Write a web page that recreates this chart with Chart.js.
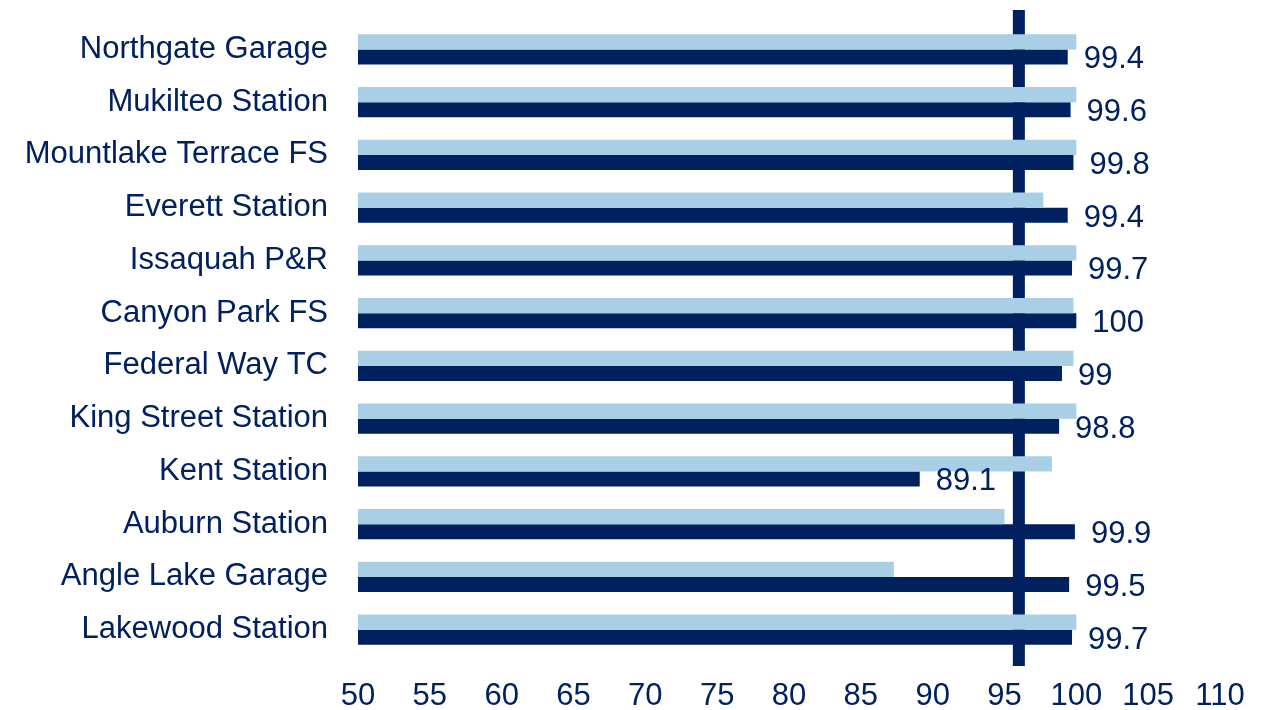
<!DOCTYPE html>
<html>
<head>
<meta charset="utf-8">
<script src="https://cdn.jsdelivr.net/npm/chart.js@4/dist/chart.umd.min.js"></script>
<style>
  html, body { margin: 0; padding: 0; background: #fff; }
  #wrap { width: 1264px; height: 710px; }
</style>
</head>
<body>
<div id="wrap"><canvas id="chart"></canvas></div>
<script>
// Station list, top to bottom
const stations = [
	'Northgate Garage', 'Mukilteo Station', 'Mountlake Terrace FS', 'Everett Station',
	'Issaquah P&R', 'Canyon Park FS', 'Federal Way TC', 'King Street Station',
	'Kent Station', 'Auburn Station', 'Angle Lake Garage', 'Lakewood Station',
];
// light bars (previous period, no labels)
const previous = [ 100, 100, 100, 97.7, 100, 99.8, 99.8, 100, 98.3, 95, 87.3, 100 ];
// dark bars (labelled)
const current = [ 99.4, 99.6, 99.8, 99.4, 99.7, 100, 99, 98.8, 89.1, 99.9, 99.5, 99.7 ];
const targetValue = 96;
const xTicks = [ 50, 55, 60, 65, 70, 75, 80, 85, 90, 95, 100, 105, 110 ];

const NAVY = '#002060';
const LIGHT = '#A9CFE6';
const FONT = 'Liberation Sans, Arial, sans-serif';
const FONT_SIZE = 31;

// thick target line, behind the bars
const targetLine = {
	id: 'targetLine',
	beforeDatasetsDraw( chart ) {
		const { ctx, chartArea, scales } = chart;
		const x = scales.x.getPixelForValue( targetValue );
		ctx.save();
		ctx.fillStyle = NAVY;
		ctx.fillRect( x - 6, chartArea.top - 13, 12, chartArea.bottom - chartArea.top + 23 );
		ctx.restore();
	},
};

// value labels to the right of the dark bars
const valueLabels = {
	id: 'valueLabels',
	afterDatasetsDraw( chart ) {
		const { ctx } = chart;
		const meta = chart.getDatasetMeta( 1 );
		ctx.save();
		ctx.fillStyle = NAVY;
		ctx.font = FONT_SIZE + 'px ' + FONT;
		ctx.textAlign = 'left';
		ctx.textBaseline = 'middle';
		meta.data.forEach( ( bar, i ) => {
			ctx.fillText( String( current[ i ] ), bar.x + 16, bar.y + 3 );
		} );
		ctx.restore();
	},
};

new Chart( document.getElementById( 'chart' ), {
	type: 'bar',
	data: {
		labels: stations,
		datasets: [
			{ label: 'Previous', data: previous, backgroundColor: LIGHT },
			{ label: 'Current', data: current, backgroundColor: NAVY },
		],
	},
	options: {
		indexAxis: 'y',
		responsive: true,
		maintainAspectRatio: false,
		animation: false,
		categoryPercentage: 0.57,
		barPercentage: 1,
		layout: { padding: { top: 23, right: 44, bottom: 0, left: 0 } },
		plugins: { legend: { display: false }, tooltip: { enabled: false } },
		scales: {
			x: {
				min: 50,
				max: 110,
				afterBuildTicks: ( s ) => { s.ticks = xTicks.map( ( v ) => ( { value: v } ) ); },
				afterFit: ( s ) => { s.height = 54; },
				grid: { display: false },
				border: { display: false },
				ticks: { color: NAVY, font: { family: FONT, size: FONT_SIZE }, padding: 14, maxRotation: 0 },
			},
			y: {
				grid: { display: false },
				border: { display: false },
				afterFit: ( s ) => {
					s.width = 358;
					s.paddingTop = 0;
					s.paddingBottom = 0;
				},
				ticks: { color: NAVY, font: { family: FONT, size: FONT_SIZE }, padding: 22, autoSkip: false },
			},
		},
	},
	plugins: [ targetLine, valueLabels ],
} );
</script>
</body>
</html>
